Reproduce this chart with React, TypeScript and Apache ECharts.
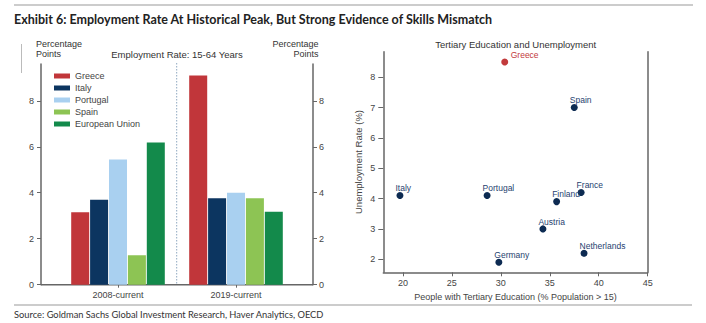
import React, { useEffect, useRef } from "react";
import * as echarts from "echarts";

const periods = ["2008-current", "2019-current"];
const countries = ["Greece", "Italy", "Portugal", "Spain", "European Union"];
const barColors = ["#c1363a", "#0c3560", "#a9d0f0", "#8dc454", "#138a4b"];
const greece = [3.15, 9.1];
const italy = [3.7, 3.76];
const portugal = [5.45, 4.0];
const spain = [1.28, 3.76];
const eu = [6.18, 3.17];
const barTicks = [0, 2, 4, 6, 8];

const scatterNames = ["Greece", "Spain", "Italy", "Portugal", "Finland", "France", "Austria", "Netherlands", "Germany"];
const tertiaryEdu = [30.4, 37.5, 19.7, 28.6, 35.7, 38.2, 34.3, 38.5, 29.8];
const unemployment = [8.5, 7.0, 4.1, 4.1, 3.9, 4.2, 3.0, 2.2, 1.9];
const scatterXTicks = [20, 25, 30, 35, 40, 45];
const scatterYTicks = [2, 3, 4, 5, 6, 7, 8];

const FONT = "Liberation Sans, Arial, sans-serif";
const AXIS = "#666";
const LABEL = "#444";
const NAVY = "#0d2b52";
const RED = "#c23a3c";

export default function App() {
  const ref = useRef<HTMLDivElement>(null);
  useEffect(() => {
    if (!ref.current) return;
    const chart = echarts.init(ref.current, undefined, { renderer: "svg" });
    const barValues = [greece, italy, portugal, spain, eu];
    const scatterData = scatterNames.map((n, i) => {
      const isGreece = n === "Greece";
      return {
        name: n,
        value: [tertiaryEdu[i], unemployment[i]],
        itemStyle: { color: isGreece ? RED : NAVY, opacity: 1 },
        label: {
          show: true,
          formatter: "{b}",
          position: "top",
          distance: 0,
          align: "left",
          offset: isGreece ? [6, 0.8] : [-4.5, 0.8],
          color: isGreece ? RED : "#1f3f70",
          fontSize: 8.5,
          fontFamily: FONT,
        },
      };
    });
    const axisLine = { show: true, lineStyle: { color: AXIS, width: 1.5 } };
    const option: any = {
      animation: false,
      backgroundColor: "#fff",
      textStyle: { fontFamily: FONT },
      grid: [
        { left: 59, width: 236, top: 64, height: 220.7 },
        { left: 383.3, width: 264.4, top: 51.7, height: 220.6 },
      ],
      legend: {
        orient: "vertical",
        left: 49,
        top: 66.5,
        itemWidth: 16,
        itemHeight: 5,
        itemGap: 3,
        icon: "rect",
        data: countries,
        textStyle: { fontSize: 9, color: "#444", fontFamily: FONT },
      },
      xAxis: [
        {
          type: "category",
          gridIndex: 0,
          data: periods,
          axisLine: { show: false },
          axisTick: { show: true, alignWithLabel: true, length: 3, lineStyle: { color: AXIS } },
          axisLabel: { fontSize: 9, color: LABEL, margin: 6, fontFamily: FONT },
        },
        {
          type: "value",
          gridIndex: 1,
          min: 18,
          max: 45,
          axisLine,
          splitLine: { show: false },
          axisTick: { show: true, length: 4, lineStyle: { color: AXIS }, customValues: scatterXTicks },
          axisLabel: { fontSize: 9, color: LABEL, margin: 6, fontFamily: FONT, customValues: scatterXTicks },
          name: "People with Tertiary Education (% Population > 15)",
          nameLocation: "middle",
          nameGap: 19,
          nameTextStyle: { fontSize: 9, color: LABEL, fontFamily: FONT },
        },
      ],
      yAxis: [
        {
          type: "value",
          gridIndex: 0,
          position: "left",
          offset: 18,
          min: 0,
          max: 9.6,
          axisLine,
          splitLine: { show: false },
          axisTick: { show: true, length: 4, lineStyle: { color: AXIS }, customValues: barTicks },
          axisLabel: { fontSize: 9, color: LABEL, margin: 7, fontFamily: FONT, customValues: barTicks },
        },
        {
          type: "value",
          gridIndex: 0,
          position: "right",
          offset: 18,
          min: 0,
          max: 9.6,
          axisLine,
          splitLine: { show: false },
          axisTick: { show: true, length: 4, lineStyle: { color: AXIS }, customValues: barTicks },
          axisLabel: { fontSize: 9, color: LABEL, margin: 6, fontFamily: FONT, customValues: barTicks },
        },
        {
          type: "value",
          gridIndex: 1,
          position: "left",
          min: 1.57,
          max: 8.84,
          axisLine,
          splitLine: { show: false },
          axisTick: { show: true, length: 5, lineStyle: { color: AXIS }, customValues: scatterYTicks },
          axisLabel: { fontSize: 9, color: LABEL, margin: 8, fontFamily: FONT, customValues: scatterYTicks },
          name: "Unemployment Rate (%)",
          nameLocation: "middle",
          nameGap: 20,
          nameTextStyle: { fontSize: 9.5, color: LABEL, fontFamily: FONT },
        },
        {
          type: "value",
          gridIndex: 1,
          position: "right",
          min: 1.57,
          max: 8.84,
          axisLine,
          splitLine: { show: false },
          axisTick: { show: false },
          axisLabel: { show: false },
        },
      ],
      series: [
        ...countries.map((c, i) => ({
          type: "bar",
          name: c,
          xAxisIndex: 0,
          yAxisIndex: 0,
          data: barValues[i],
          barWidth: 18,
          barGap: "5%",
          itemStyle: { color: barColors[i] },
        })),
        {
          type: "scatter",
          xAxisIndex: 1,
          yAxisIndex: 2,
          symbolSize: 7,
          data: scatterData,
        },
      ],
      graphic: [
        { type: "line", shape: { x1: 14, y1: 5, x2: 693, y2: 5 }, style: { stroke: "#999", lineWidth: 1 } },
        {
          type: "text",
          x: 14,
          y: 19,
          style: { text: "Exhibit 6: Employment Rate At Historical Peak, But Strong Evidence of Skills Mismatch", font: "bold 12.5px Lato, sans-serif", fill: "#222", verticalAlign: "middle" },
        },
        { type: "line", shape: { x1: 21.5, y1: 44, x2: 21.5, y2: 73 }, style: { stroke: "#bbb", lineWidth: 1 } },
        { type: "text", x: 36, y: 44, style: { text: "Percentage", font: "9px " + FONT, fill: "#333", verticalAlign: "middle" } },
        { type: "text", x: 36, y: 53.5, style: { text: "Points", font: "9px " + FONT, fill: "#333", verticalAlign: "middle" } },
        { type: "text", x: 318.5, y: 44, style: { text: "Percentage", font: "9px " + FONT, fill: "#333", align: "right", verticalAlign: "middle" } },
        { type: "text", x: 318.5, y: 53.5, style: { text: "Points", font: "9px " + FONT, fill: "#333", align: "right", verticalAlign: "middle" } },
        { type: "text", x: 177, y: 54, style: { text: "Employment Rate: 15-64 Years", font: "9.5px " + FONT, fill: "#333", align: "center", verticalAlign: "middle" } },
        { type: "line", shape: { x1: 176.7, y1: 63, x2: 176.7, y2: 284.7 }, style: { stroke: "#8fa8c0", lineWidth: 1, lineDash: [1.5, 1.5] } },
        { type: "line", shape: { x1: 41, y1: 284.7, x2: 313, y2: 284.7 }, style: { stroke: AXIS, lineWidth: 1.5 } },
        { type: "text", x: 515.7, y: 44, style: { text: "Tertiary Education and Unemployment", font: "9.5px " + FONT, fill: "#333", align: "center", verticalAlign: "middle" } },
        { type: "line", shape: { x1: 14, y1: 305, x2: 692, y2: 305 }, style: { stroke: "#999", lineWidth: 1 } },
        {
          type: "text",
          x: 14,
          y: 314.5,
          style: { text: "Source: Goldman Sachs Global Investment Research, Haver Analytics, OECD", font: "9.3px Lato, sans-serif", fill: "#333", verticalAlign: "middle" },
        },
      ],
    };
    chart.setOption(option);
    return () => chart.dispose();
  }, []);
  return <div ref={ref} style={{ position: "fixed", left: 0, top: 0, width: 706, height: 323 }} />;
}
